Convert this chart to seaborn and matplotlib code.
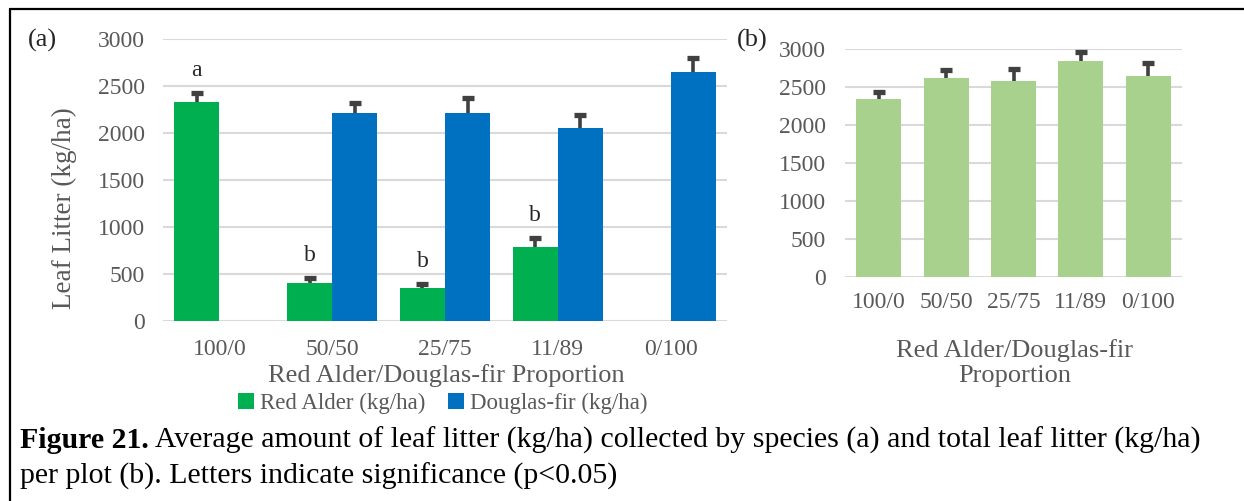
import numpy as np
import pandas as pd
import matplotlib
matplotlib.use("Agg")
import matplotlib.pyplot as plt
import seaborn as sns
from matplotlib.lines import Line2D

# ---------------- data ----------------
categories = ["100/0", "50/50", "25/75", "11/89", "0/100"]
series_names = ["Red Alder (kg/ha)", "Douglas-fir (kg/ha)"]
red_alder = [2335, 400, 355, 785, np.nan]
red_alder_err = [90, 55, 38, 100, np.nan]
douglas_fir = [np.nan, 2215, 2215, 2055, 2648]
douglas_fir_err = [np.nan, 105, 155, 138, 150]
sig_letters = ["a", "b", "b", "b", ""]
total = [2341, 2623, 2579, 2847, 2649]
total_err = [92, 110, 157, 115, 165]
yticks = [0, 500, 1000, 1500, 2000, 2500, 3000]

caption_bold = "Figure 21."
caption_line1 = " Average amount of leaf litter (kg/ha) collected by species (a) and total leaf litter (kg/ha)"
caption_line2 = "per plot (b). Letters indicate significance (p<0.05)"

# ---------------- style ----------------
GREEN = "#00b050"
BLUE = "#0070c0"
LIGHT = "#a9d18e"
GRAY_TXT = "#595959"
GRID = "#d9d9d9"
ERR = "#404040"

sns.set_style("white")
plt.rcParams["font.family"] = ["Liberation Serif", "DejaVu Serif"]

rows = []
for cat, v, e in zip(categories, red_alder, red_alder_err):
    rows.append((cat, series_names[0], v, e))
for cat, v, e in zip(categories, douglas_fir, douglas_fir_err):
    rows.append((cat, series_names[1], v, e))
dfa = pd.DataFrame(rows, columns=["Proportion", "Species", "value", "err"]).dropna()
err_lookup = {(r.Proportion, r.Species): r.err for r in dfa.itertuples()}

fig = plt.figure(figsize=(12.44, 5.01), dpi=100)
W, H = 1244, 501

def box(x0, x1, ytop, ybot):
    return [x0 / W, 1 - ybot / H, (x1 - x0) / W, (ybot - ytop) / H]

axa = fig.add_axes(box(163, 727, 39.3, 321))
axb = fig.add_axes(box(845, 1182, 49.3, 276.7))

def draw_err(ax, x, y, e):
    ax.vlines(x, y, y + e, color=ERR, lw=2.6, zorder=3)
    ax.plot([x], [y + e], marker="_", markersize=8.5, mew=3.8, color=ERR, zorder=3)

# ---- panel (a) ----
sns.barplot(data=dfa, x="Proportion", y="value", hue="Species", order=categories,
            hue_order=series_names, palette=[GREEN, BLUE], width=0.8, errorbar=None,
            saturation=1, linewidth=0, ax=axa)
for cont, name in zip(axa.containers, series_names):
    for p in cont:
        h = p.get_height()
        if not np.isfinite(h):
            continue
        xc = p.get_x() + p.get_width() / 2
        idx = int(round(xc))
        e = err_lookup[(categories[idx], name)]
        draw_err(axa, xc, h, e)
        if name == series_names[0] and sig_letters[idx]:
            axa.text(xc, h + e + 240, sig_letters[idx], ha="center", va="center",
                     fontsize=17, color="#262626")

handles, labels = axa.get_legend_handles_labels()
if axa.get_legend() is not None:
    axa.get_legend().remove()
axa.legend(handles, labels, loc="center", bbox_to_anchor=(0.496, -0.291), ncol=2,
           frameon=False, handlelength=0.7, handleheight=0.7, handletextpad=0.25,
           columnspacing=1.0, prop={"size": 16.5}, labelcolor=GRAY_TXT)

axa.set_ylabel("Leaf Litter (kg/ha)", fontsize=19.5, color=GRAY_TXT)
axa.yaxis.set_label_coords((64 - 163) / 564, (321 - 208) / 281.7)
axa.yaxis.label.set_va("center")
axa.set_xlabel("Red Alder/Douglas-fir Proportion", fontsize=19, color=GRAY_TXT)
axa.xaxis.set_label_coords((446.5 - 163) / 564, (321 - 376) / 281.7)
axa.xaxis.label.set_va("center")

# ---- panel (b) ----
sns.barplot(x=categories, y=total, color=LIGHT, width=0.67, errorbar=None,
            saturation=1, linewidth=0, ax=axb)
for p, e in zip(axb.patches, total_err):
    draw_err(axb, p.get_x() + p.get_width() / 2, p.get_height(), e)
axb.set_xlabel("Red Alder/Douglas-fir\nProportion", fontsize=19, color=GRAY_TXT,
               linespacing=1.15)
axb.xaxis.set_label_coords((1015 - 845) / 337, (276.7 - 363) / 227.4)
axb.xaxis.label.set_va("center")
axb.set_ylabel("")

for ax, xpad, ypad in ((axa, 13, 13), (axb, 11, 14)):
    ax.set_xlim(-0.5, len(categories) - 0.5)
    ax.set_ylim(0, 3000)
    ax.set_yticks(yticks)
    ax.yaxis.grid(True, color=GRID, lw=1.5)
    ax.xaxis.grid(False)
    ax.set_axisbelow(True)
    for s in ax.spines.values():
        s.set_visible(False)
    ax.tick_params(axis="x", length=0, pad=xpad, labelsize=17, labelcolor=GRAY_TXT)
    ax.tick_params(axis="y", length=0, pad=ypad, labelsize=17, labelcolor=GRAY_TXT)

fig.text(42 / W, 1 - 40 / H, "(a)", fontsize=19, ha="center", va="center", color="#262626")
fig.text(752 / W, 1 - 40 / H, "(b)", fontsize=19, ha="center", va="center", color="#262626")

# frame
fig.add_artist(Line2D([9.5 / W, 9.5 / W], [0, 1 - 9 / H], color="black", lw=1.6))
fig.add_artist(Line2D([9.5 / W, 1], [1 - 9 / H, 1 - 9 / H], color="black", lw=1.6))

# caption
CAP = 21.5
t1 = fig.text(20 / W, 1 - 440 / H, caption_bold, fontsize=CAP, fontweight="bold",
              ha="left", va="center", color="black")
fig.canvas.draw()
bb = t1.get_window_extent()
fig.text(bb.x1 / W, 1 - 440 / H, caption_line1, fontsize=CAP, ha="left", va="center",
         color="black")
fig.text(20 / W, 1 - 476 / H, caption_line2, fontsize=CAP, ha="left", va="center",
         color="black")

fig.savefig("out.png", dpi=100)
